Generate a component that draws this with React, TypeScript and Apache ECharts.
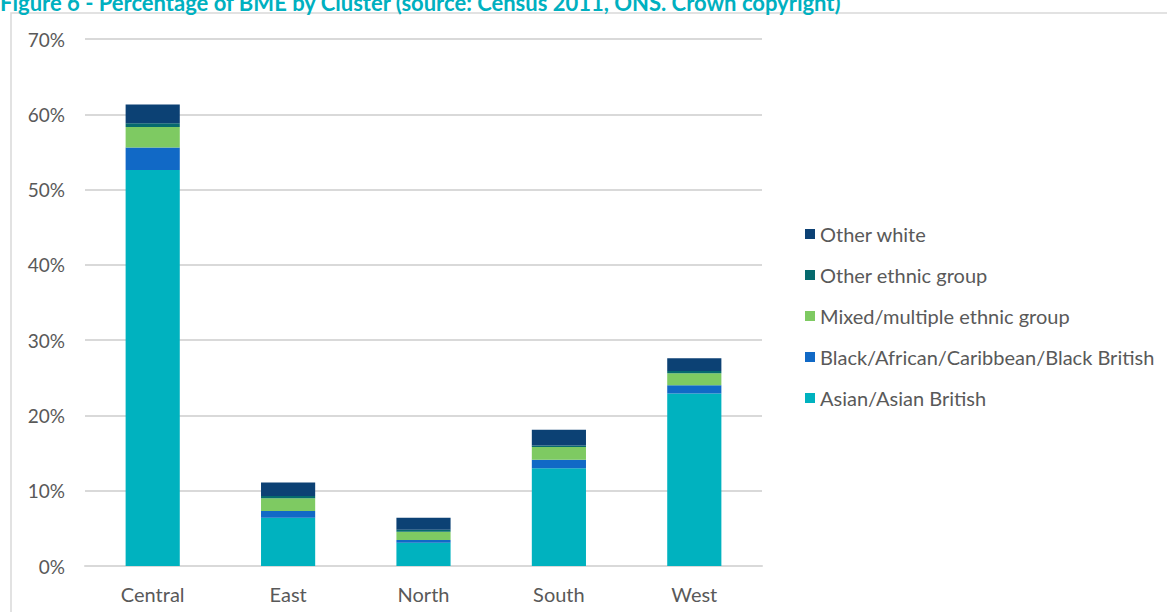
import React, { useEffect, useRef } from "react";
import * as echarts from "echarts";

const categories = ["Central", "East", "North", "South", "West"];
const asian = [52.6, 6.4, 3.1, 13.0, 22.9];
const black = [3.0, 0.9, 0.35, 1.1, 1.1];
const mixed = [2.7, 1.7, 1.1, 1.7, 1.6];
const otherEthnic = [0.5, 0.3, 0.25, 0.2, 0.3];
const otherWhite = [2.5, 1.8, 1.6, 2.1, 1.7];
const seriesNames = [
  "Asian/Asian British",
  "Black/African/Caribbean/Black British",
  "Mixed/multiple ethnic group",
  "Other ethnic group",
  "Other white",
];
const legendOrder = [
  "Other white",
  "Other ethnic group",
  "Mixed/multiple ethnic group",
  "Black/African/Caribbean/Black British",
  "Asian/Asian British",
];
const colors = ["#00B2BF", "#1169C6", "#7ECA62", "#066A6E", "#0C4174"];
const title = "Figure 6 - Percentage of BME by Cluster (source: Census 2011, ONS. Crown copyright)";

export default function App() {
  const ref = useRef<HTMLDivElement>(null);
  useEffect(() => {
    const chart = echarts.init(ref.current!, null, { renderer: "svg" });
    const values = [asian, black, mixed, otherEthnic, otherWhite];
    chart.setOption({
      animation: false,
      textStyle: { fontFamily: "Lato, 'Open Sans', sans-serif" },
      graphic: [
        {
          type: "rect",
          shape: { x: 11, y: 13, width: 1200, height: 700 },
          style: { fill: "none", stroke: "#d9d9d9", lineWidth: 1.5 },
          silent: true,
        },
        {
          type: "text",
          x: 0,
          y: -9,
          style: {
            text: title,
            fill: "#00B0C0",
            font: "bold 22px Lato, 'Open Sans', sans-serif",
          },
        },
      ],
      grid: { left: 85, right: 405, top: 39, bottom: 46, containLabel: false },
      legend: {
        data: legendOrder,
        orient: "vertical",
        left: 800,
        top: 219,
        itemWidth: 10,
        itemHeight: 10,
        itemGap: 21,
        icon: "rect",
        textStyle: { color: "#595959", fontSize: 20, fontFamily: "Lato, sans-serif" },
      },
      xAxis: {
        type: "category",
        data: categories,
        axisLine: { lineStyle: { color: "#d9d9d9", width: 2 } },
        axisTick: { show: false },
        axisLabel: { color: "#595959", fontSize: 20, margin: 18 },
      },
      yAxis: {
        type: "value",
        min: 0,
        max: 70,
        interval: 10,
        axisLine: { show: false },
        axisTick: { show: false },
        axisLabel: { color: "#595959", fontSize: 19, formatter: "{value}%", margin: 20 },
        splitLine: { lineStyle: { color: "#d9d9d9", width: 2 } },
      },
      series: seriesNames.map((name, i) => ({
        name,
        type: "bar",
        stack: "total",
        barWidth: "40%",
        data: values[i],
        itemStyle: { color: colors[i] },
      })),
    });
    return () => chart.dispose();
  }, []);
  return (
    <div
      ref={ref}
      style={{ position: "fixed", left: 0, top: 0, width: 1167, height: 612, background: "#fff" }}
    />
  );
}
